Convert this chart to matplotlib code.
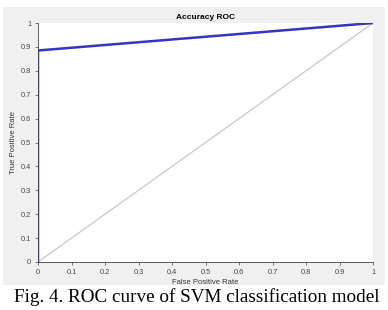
import numpy as np
import matplotlib
matplotlib.use("Agg")
import matplotlib.pyplot as plt
from matplotlib.patches import Rectangle

# ROC data
fpr = [0.0, 0.0, 1.0]
tpr = [0.0, 0.885, 1.0]
chance_x = [0.0, 1.0]
chance_y = [0.0, 1.0]
ticks = np.round(np.arange(0, 1.01, 0.1), 1)
tick_labels = ["0", "0.1", "0.2", "0.3", "0.4", "0.5", "0.6", "0.7", "0.8", "0.9", "1"]

W, H = 388, 310
fig = plt.figure(figsize=(W / 100, H / 100), dpi=100)
fig.patch.set_facecolor("white")

# gray matlab figure panel, kept behind the axes
fig.patches.append(Rectangle((3 / W, 1 - 285 / H), 382 / W, 278 / H,
                             transform=fig.transFigure, facecolor="#f0f0f0",
                             edgecolor="none", zorder=-10))

ax = fig.add_axes([38 / W, 1 - 262 / H, 335 / W, 239 / H])
ax.set_facecolor("white")
ax.plot(chance_x, chance_y, color="#c8c8c8", lw=0.9)
ax.plot(fpr, tpr, color="#3535c0", lw=1.8, solid_joinstyle="miter")

ax.set_xlim(0, 1)
ax.set_ylim(0, 1)
ax.set_xticks(ticks)
ax.set_yticks(ticks)
ax.set_xticklabels(tick_labels)
ax.set_yticklabels(tick_labels)
for s in ["top", "right"]:
    ax.spines[s].set_visible(False)
for s in ["left", "bottom"]:
    ax.spines[s].set_color("#444444")
    ax.spines[s].set_linewidth(0.6)
ax.tick_params(labelsize=5.3, colors="#444444", length=2, width=0.5, pad=3)

ax.set_title("Accuracy ROC", fontsize=6, fontweight="bold",
             family="Liberation Sans", pad=3)
ax.set_xlabel("False Positive Rate", fontsize=5.5, family="Liberation Sans",
              color="#333333", labelpad=2)
ax.set_ylabel("True Positive Rate", fontsize=5.5, family="Liberation Sans",
              color="#333333", labelpad=3)
for lbl in ax.get_xticklabels() + ax.get_yticklabels():
    lbl.set_family("Liberation Sans")

fig.text(14 / W, 1 - 297 / H, "Fig. 4. ROC curve of SVM classification model",
         fontsize=13.8, family="Liberation Serif", va="center", ha="left")

fig.savefig("out.png", dpi=100)
